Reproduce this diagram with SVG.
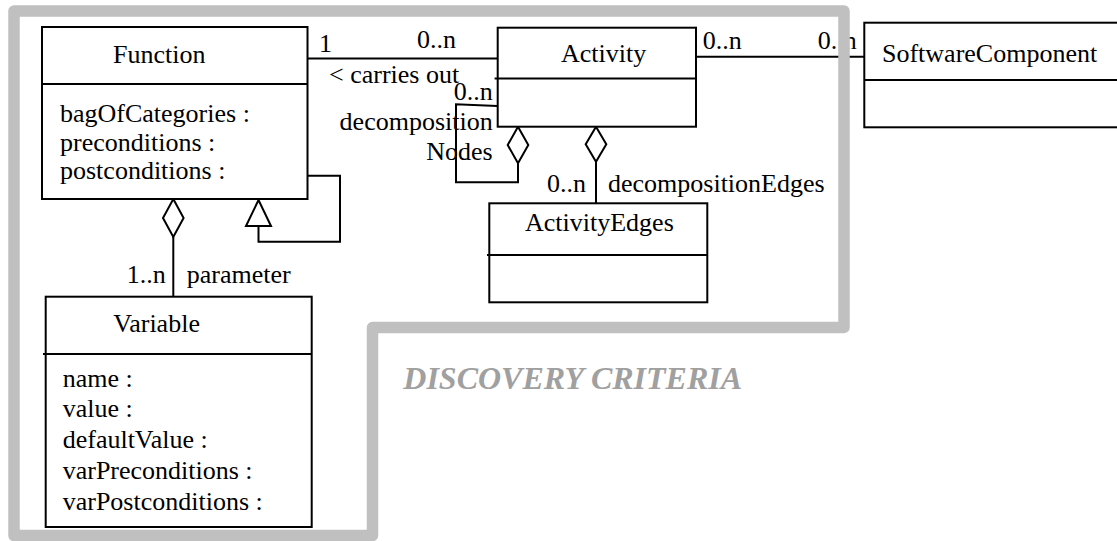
<svg xmlns="http://www.w3.org/2000/svg" width="1117" height="541" viewBox="0 0 1117 541">
<style>
.box{fill:#ffffff;stroke:#000000;stroke-width:2}
.ln{fill:none;stroke:#000000;stroke-width:2}
.dia{fill:#ffffff;stroke:#000000;stroke-width:2;stroke-linejoin:miter}
.t{font-family:"Liberation Serif","Times New Roman",Times,serif;font-size:26px;fill:#000000}
.end{text-anchor:end}
.crit{font-family:"Liberation Serif","Times New Roman",Times,serif;font-size:32px;font-weight:bold;font-style:italic;fill:#a0a0a0}
.band{fill:none;stroke:#c0c0c0;stroke-width:11.5;stroke-linejoin:round}
</style>
<rect width="1117" height="541" fill="#ffffff"/>
<g id="connectors">
  <line class="ln" x1="307" y1="58.5" x2="497.5" y2="58.5"/>
  <line class="ln" x1="696" y1="56.7" x2="864.3" y2="56.7"/>
  <polyline class="ln" points="497.5,106 456,104.3 456,182.3 518,182.3 518,163.3"/>
  <polygon class="dia" points="518,126.7 528.3,145 518,163.3 507.7,145"/>
  <line class="ln" x1="596" y1="161.7" x2="596" y2="203.3"/>
  <polygon class="dia" points="596,126.7 606.3,144.2 596,161.7 585.7,144.2"/>
  <polyline class="ln" points="307.5,175.7 340,175.7 340,241.7 258.5,241.7 258.5,226"/>
  <polygon class="dia" points="258.5,200 271,226 246,226"/>
  <line class="ln" x1="173.3" y1="237" x2="173.3" y2="296.7"/>
  <polygon class="dia" points="173.3,199 183.6,218 173.3,237 163,218"/>
  <text class="t" x="319" y="51.7">1</text>
  <text class="t" x="417" y="48.3">0..n</text>
  <text class="t" x="329" y="83.3">&lt; carries out</text>
  <text class="t end" x="492.7" y="100">0..n</text>
  <text class="t end" x="492.7" y="130">decomposition</text>
  <text class="t end" x="492.7" y="160">Nodes</text>
  <text class="t end" x="586" y="191.7">0..n</text>
  <text class="t" x="608" y="191.7">decompositionEdges</text>
  <text class="t" x="702.7" y="49.3">0..n</text>
  <text class="t" x="817.7" y="49.3">0..n</text>
  <text class="t end" x="165.7" y="283">1..n</text>
  <text class="t" x="186.7" y="283">parameter</text>
</g>
<g id="Function">
  <rect class="box" x="42" y="27" width="265.5" height="172"/>
  <line class="ln" x1="42" y1="84" x2="307.5" y2="84"/>
  <text class="t" x="113" y="62.7">Function</text>
  <text class="t" x="60" y="121.7">bagOfCategories :</text>
  <text class="t" x="60" y="150.5">preconditions :</text>
  <text class="t" x="60" y="179.3">postconditions :</text>
</g>
<g id="Activity">
  <rect class="box" x="497.7" y="27.7" width="198.3" height="99"/>
  <line class="ln" x1="494.6" y1="78.5" x2="696" y2="78.5"/>
  <text class="t" x="561" y="61.7">Activity</text>
</g>
<g id="SoftwareComponent">
  <rect class="box" x="864.3" y="22.7" width="260" height="104.6"/>
  <line class="ln" x1="864.3" y1="80" x2="1124" y2="80"/>
  <text class="t" x="882" y="61.7">SoftwareComponent</text>
</g>
<g id="ActivityEdges">
  <rect class="box" x="489.3" y="203.3" width="218" height="99"/>
  <line class="ln" x1="487" y1="255" x2="707.3" y2="255"/>
  <text class="t" x="525" y="231">ActivityEdges</text>
</g>
<g id="Variable">
  <rect class="box" x="45.7" y="296.7" width="266" height="230.3"/>
  <line class="ln" x1="43" y1="354" x2="311.7" y2="354"/>
  <text class="t" x="113.3" y="331.7">Variable</text>
  <text class="t" x="62.7" y="386.7">name :</text>
  <text class="t" x="62.7" y="417">value :</text>
  <text class="t" x="62.7" y="447.5">defaultValue :</text>
  <text class="t" x="62.7" y="478.5">varPreconditions :</text>
  <text class="t" x="62.7" y="509.5">varPostconditions :</text>
</g>
<g id="DiscoveryCriteria">
  <path class="band" d="M14,11 L844,11 L844,327.5 L372.5,327.5 L372.5,535.5 L14,535.5 Z"/>
  <text class="crit" x="403.3" y="389.3">DISCOVERY CRITERIA</text>
</g>
</svg>
